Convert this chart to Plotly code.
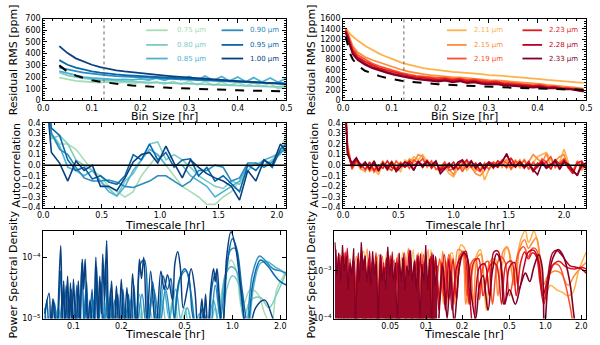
import plotly.graph_objects as go

# ---------------- top row: residual RMS vs bin size ----------------
bin_l = [0.033, 0.050, 0.067, 0.083, 0.100, 0.117, 0.133, 0.150, 0.167, 0.183,
         0.200, 0.217, 0.233, 0.250, 0.267, 0.283, 0.300, 0.317, 0.333, 0.350,
         0.367, 0.383, 0.400, 0.417, 0.433, 0.450, 0.467, 0.483, 0.500]
rms_075 = [195, 180, 168, 162, 160, 152, 158, 148, 156, 146, 154, 143, 158, 140, 162,
           137, 165, 134, 163, 130, 158, 127, 154, 124, 150, 120, 145, 100, 115]
rms_080 = [240, 215, 200, 188, 180, 174, 170, 166, 162, 160, 158, 155, 152, 150, 148,
           146, 143, 140, 138, 135, 133, 130, 128, 125, 123, 120, 118, 116, 125]
rms_085 = [250, 232, 215, 200, 192, 186, 182, 178, 180, 176, 185, 175, 190, 172, 200,
           178, 205, 172, 208, 170, 205, 165, 200, 160, 195, 158, 192, 155, 190]
rms_090 = [280, 262, 250, 238, 228, 220, 214, 208, 203, 200, 196, 193, 190, 187, 184,
           182, 178, 176, 172, 170, 166, 163, 160, 156, 154, 150, 148, 152, 145]
rms_095 = [345, 305, 280, 262, 248, 237, 228, 222, 217, 212, 208, 204, 200, 196, 192,
           188, 184, 180, 176, 172, 168, 164, 160, 157, 154, 151, 148, 145, 142]
rms_100 = [465, 405, 360, 330, 305, 285, 270, 258, 248, 240, 232, 225, 218, 212, 206,
           200, 195, 190, 185, 180, 175, 170, 165, 160, 156, 152, 148, 144, 140]
white_l = [300, 245, 212, 190, 173, 160, 150, 141, 134, 128, 122, 117, 113, 110, 106,
           103, 100, 97, 95, 93, 90, 88, 87, 85, 83, 82, 80, 79, 77]

bin_r = [0.005, 0.010, 0.015, 0.020, 0.030, 0.045, 0.060, 0.075, 0.090, 0.105,
         0.120, 0.135, 0.150, 0.165, 0.180, 0.195, 0.210, 0.225, 0.240, 0.255,
         0.270, 0.285, 0.300, 0.315, 0.330, 0.345, 0.360, 0.375, 0.390, 0.405,
         0.420, 0.435, 0.450, 0.465, 0.480, 0.495]
rms_211 = [1420, 1350, 1290, 1250, 1170, 1070, 990, 910, 850, 790, 740, 700, 660, 630,
           610, 590, 575, 560, 550, 540, 525, 515, 495, 490, 480, 465, 455, 440, 430,
           415, 400, 390, 380, 370, 360, 345]
rms_215 = [1400, 1310, 1180, 1060, 940, 850, 790, 740, 690, 650, 600, 565, 535, 515,
           495, 480, 475, 455, 450, 435, 425, 418, 398, 392, 382, 368, 352, 342, 332,
           322, 302, 292, 282, 262, 250, 228]
rms_219 = [1390, 1290, 1140, 1010, 890, 800, 720, 665, 620, 580, 540, 510, 480, 470,
           450, 440, 445, 420, 430, 400, 410, 385, 370, 375, 350, 345, 330, 325, 300,
           310, 280, 275, 250, 240, 230, 205]
rms_223 = [1370, 1260, 1100, 970, 850, 760, 690, 630, 590, 550, 510, 480, 460, 440,
           430, 410, 425, 395, 415, 380, 390, 360, 350, 355, 330, 325, 310, 300, 285,
           290, 260, 270, 240, 225, 220, 190]
rms_228 = [1350, 1230, 1060, 930, 820, 720, 650, 600, 560, 520, 485, 455, 430, 415,
           400, 385, 400, 370, 390, 355, 370, 340, 330, 335, 310, 305, 290, 280, 265,
           275, 245, 250, 225, 230, 200, 180]
rms_233 = [1330, 1200, 1030, 900, 790, 700, 630, 580, 540, 500, 465, 440, 415, 400,
           385, 370, 385, 355, 375, 340, 355, 325, 315, 320, 295, 290, 275, 265, 250,
           260, 235, 240, 215, 220, 195, 170]
white_r = [1250, 1050, 900, 800, 680, 580, 520, 475, 440, 410, 385, 365, 350, 338,
           327, 317, 308, 300, 292, 285, 278, 272, 266, 260, 255, 250, 245, 240, 236,
           232, 228, 224, 220, 216, 212, 208]

# ---------------- middle row: autocorrelation ----------------
lag_l = [0.00, 0.07, 0.14, 0.21, 0.28, 0.35, 0.42, 0.49, 0.56, 0.63, 0.70, 0.77, 0.84,
         0.91, 0.98, 1.05, 1.12, 1.19, 1.26, 1.33, 1.40, 1.47, 1.54, 1.61, 1.68, 1.75,
         1.82, 1.89, 1.96, 2.03, 2.10]
ac_075 = [1.0, .3, .2, .2, .15, .05, -.05, -.1, -.2, -.25, -.3, -.25, -.1, .0, .1, .0,
          -.1, -.2, -.25, -.3, -.37, -.37, -.3, -.25, -.15, -.05, .02, .0, .05, .15, .35]
ac_080 = [1.0, .25, .28, .2, .05, .0, -.05, -.15, -.22, -.29, -.15, -.08, .05, .2, .22,
          .05, .1, .05, -.02, -.1, -.15, -.2, -.22, -.15, -.18, -.05, .02, .0, .05, .1, .3]
ac_085 = [1.0, .3, .18, -.02, -.05, -.1, -.05, -.15, -.25, -.29, -.2, -.05, .05, .15, .1,
          .0, .0, .0, -.1, -.15, -.2, -.3, -.25, -.2, -.15, .0, .0, .05, .08, .12, .15]
ac_090 = [1.0, .3, .15, .1, -.02, -.12, -.15, -.15, -.14, -.16, -.2, -.21, -.18, -.15,
          -.1, -.1, -.15, -.2, -.15, -.05, -.05, .0, -.02, -.15, -.12, .02, .02, -.02,
          .03, .12, .18]
ac_095 = [1.0, .35, .28, .05, -.05, -.02, -.13, -.1, -.16, -.18, -.1, .1, .05, .2, .05,
          .12, -.02, .05, .06, -.1, -.02, -.15, -.1, -.18, -.25, .0, -.05, .05, -.02,
          .15, .22]
ac_100 = [1.0, .12, .02, -.15, .04, -.05, .0, -.2, -.2, -.24, -.12, .03, .1, .12, .02,
          .18, .02, -.12, .05, -.02, -.08, -.12, -.15, -.2, -.33, -.05, -.15, .05, .0,
          .2, .1]

lag_r = [0.00, 0.04, 0.08, 0.12, 0.16, 0.20, 0.24, 0.28, 0.32, 0.36, 0.40, 0.44, 0.48,
         0.52, 0.56, 0.60, 0.64, 0.68, 0.72, 0.76, 0.80, 0.84, 0.88, 0.92, 0.96, 1.00,
         1.04, 1.08, 1.12, 1.16, 1.20, 1.24, 1.28, 1.32, 1.36, 1.40, 1.44, 1.48, 1.52,
         1.56, 1.60, 1.64, 1.68, 1.72, 1.76, 1.80, 1.84, 1.88, 1.92, 1.96, 2.00, 2.04,
         2.08, 2.12, 2.16, 2.20]
ac_211 = [1.0, .18, -.03, .02, -.04, .03, -.06, -.03, -.09, .02, -.04, .04, -.02, -.06,
          .05, .02, .08, .05, .1, .03, -.02, .04, -.05, -.02, -.08, -.11, -.03, .02,
          -.05, .0, -.06, .02, -.14, -.04, .03, -.02, .04, -.03, .02, .05, -.03, .06,
          -.04, .02, .08, .1, .12, .05, -.02, .03, .15, .02, -.06, .03, -.05, .02]
ac_215 = [1.0, .2, -.02, .03, -.03, -.06, .02, -.07, -.02, .04, -.05, .01, -.03, .03,
          -.01, .06, .03, .1, .08, -.02, .02, -.03, -.06, .01, -.04, -.09, .02, -.03,
          .04, -.02, -.08, -.1, -.05, .03, -.01, .04, -.02, .06, -.04, .01, .05, -.02,
          .03, .1, .06, .02, .11, -.01, .04, .08, .1, -.03, -.05, .02, -.04, .01]
ac_219 = [1.0, .16, -.04, .04, -.02, .02, -.05, .01, -.06, .03, -.02, -.05, .04, -.01,
          .03, -.03, .05, .02, .06, -.01, .04, -.04, -.02, .03, -.05, -.03, .02, -.06,
          .01, .04, -.03, -.06, .02, -.04, .03, .0, .05, .02, -.03, .04, -.01, .05,
          -.04, .03, -.02, .06, .03, .08, -.02, .02, .06, .0, -.07, .04, -.02, .03]
ac_223 = [1.0, .14, -.02, .05, .01, -.04, .03, -.05, .0, -.03, .04, -.02, -.04, .02,
          -.01, .04, .0, .03, -.02, .05, -.03, .02, -.04, .01, -.02, .03, -.04, .01,
          .05, -.02, .02, -.05, .0, .03, -.03, .04, .01, -.02, .07, -.01, .02, -.03,
          .04, -.05, .02, .0, .03, -.04, .05, .01, .03, -.02, -.08, .02, .04, -.03]
ac_228 = [1.0, .12, .0, .06, -.02, .02, -.04, .03, -.05, .01, -.02, .03, -.05, .01,
          -.02, .02, -.04, .03, .0, .04, -.01, .03, -.05, -.02, .02, -.04, .01, .04,
          -.02, .03, -.01, .02, -.04, .03, .01, -.02, .04, .1, .02, -.02, .03, -.01,
          .02, -.06, -.01, .04, -.02, .01, .03, -.03, .05, -.02, -.06, -.09, .02, -.02]
ac_233 = [1.0, .1, .02, .07, -.01, .03, -.03, .04, -.05, .02, -.04, .03, -.06, -.02,
          .03, .01, -.05, .04, -.02, .03, .0, .04, -.08, -.03, .01, -.03, .03, .05,
          -.02, .04, -.03, .02, -.03, .02, -.02, .01, .03, .11, .01, -.01, .03, -.02,
          .01, -.04, -.09, .02, -.03, .0, .05, -.04, .03, .01, -.05, -.1, .0, -.03]

# ---------------- bottom row: power spectral density vs timescale ----------------
per_075 = [0.200, 0.230, 0.250, 0.280, 0.310, 0.340, 0.380, 0.420, 0.460, 0.520,
           0.580, 0.660, 0.740, 0.820, 0.900, 0.980, 1.060, 1.150, 1.300, 1.450,
           1.600, 1.750, 1.900, 2.050, 2.200]
psd_075 = [4e-6, 1.2e-5, 4e-6, 1.5e-5, 5e-6, 1.2e-5, 5e-6, 2e-5, 6e-6, 1.5e-5,
           5e-6, 8e-6, 5e-6, 1.5e-5, 5e-5, 9e-5, 6e-5, 1.5e-5, 3e-5, 2.5e-5,
           1.2e-5, 8e-6, 3e-5, 4.5e-5, 6e-5]
per_080 = [0.066, 0.075, 0.090, 0.100, 0.120, 0.135, 0.160, 0.180, 0.210, 0.235,
           0.255, 0.275, 0.300, 0.330, 0.360, 0.390, 0.430, 0.460, 0.500, 0.550,
           0.620, 0.700, 0.780, 0.850, 0.920, 1.000, 1.080, 1.180, 1.300, 1.500,
           1.700, 1.900, 2.200]
psd_080 = [8e-6, 4e-6, 1e-5, 4e-6, 1.2e-5, 4e-6, 1.2e-5, 4e-6, 1.3e-5, 4e-6,
           1.8e-5, 5e-6, 1.5e-5, 5e-6, 2e-5, 6e-6, 2.5e-5, 8e-6, 1.5e-5, 5e-6,
           1e-5, 5e-6, 1.5e-5, 5e-6, 3e-5, 5e-5, 4e-5, 1e-5, 2e-5, 2.2e-5,
           1.5e-5, 2.5e-5, 6e-5]
per_085 = [0.066, 0.072, 0.080, 0.088, 0.100, 0.110, 0.130, 0.145, 0.165, 0.185,
           0.200, 0.220, 0.240, 0.260, 0.280, 0.310, 0.340, 0.370, 0.400, 0.440,
           0.480, 0.520, 0.570, 0.620, 0.680, 0.760, 0.820, 0.900, 0.980, 1.060,
           1.150, 1.250, 1.350, 1.500, 1.650, 1.850, 2.050, 2.200]
psd_085 = [1e-5, 4e-6, 1.5e-5, 4e-6, 1.2e-5, 4e-6, 1.5e-5, 4e-6, 1.5e-5, 4e-6,
           5e-6, 1.5e-5, 5e-6, 2.5e-5, 5e-6, 2e-5, 6e-6, 3.5e-5, 1e-5, 3e-5,
           8e-6, 1.5e-5, 6e-6, 1.2e-5, 5e-6, 2e-5, 8e-6, 5e-5, 7e-5, 6e-5,
           1.5e-5, 5e-6, 3e-5, 8e-5, 8.5e-5, 7e-5, 6e-5, 5e-5]
per_090 = [0.066, 0.070, 0.075, 0.080, 0.086, 0.090, 0.097, 0.102, 0.108, 0.114,
           0.120, 0.126, 0.133, 0.140, 0.148, 0.155, 0.163, 0.172, 0.182, 0.192,
           0.205, 0.215, 0.230, 0.245, 0.270, 0.290, 0.320, 0.350, 0.380, 0.420,
           0.470, 0.510, 0.550, 0.600, 0.660, 0.720, 0.780, 0.840, 0.900, 0.970,
           1.040, 1.120, 1.220, 1.330, 1.480, 1.600, 1.800, 2.000, 2.200]
psd_090 = [1.5e-5, 5e-6, 2e-5, 5e-6, 2.5e-5, 5e-6, 2e-5, 5e-6, 2.5e-5, 5e-6,
           3e-5, 5e-6, 2e-5, 5e-6, 3e-5, 5e-6, 2.5e-5, 5e-6, 2e-5, 5e-6,
           1.8e-5, 5e-6, 2e-5, 5e-6, 2.5e-5, 6e-6, 3e-5, 8e-6, 3e-5, 6e-6,
           4.5e-5, 6e-5, 2.5e-5, 6e-6, 1.2e-5, 6e-6, 3.5e-5, 1e-5, 4e-5, 1.3e-4,
           1.4e-4, 4e-5, 6e-6, 5e-5, 1.05e-4, 9e-5, 6.5e-5, 6e-5, 5.5e-5]
per_095 = [0.066, 0.068, 0.071, 0.076, 0.079, 0.083, 0.086, 0.090, 0.093, 0.097,
           0.101, 0.105, 0.109, 0.113, 0.117, 0.121, 0.125, 0.131, 0.135, 0.140,
           0.144, 0.149, 0.154, 0.159, 0.165, 0.171, 0.178, 0.190, 0.197, 0.205,
           0.213, 0.222, 0.231, 0.240, 0.250, 0.265, 0.280, 0.295, 0.315, 0.340,
           0.365, 0.390, 0.410, 0.430, 0.460, 0.500, 0.530, 0.560, 0.600, 0.650,
           0.700, 0.740, 0.780, 0.820, 0.860, 0.930, 1.000, 1.070, 1.150, 1.250,
           1.350, 1.500, 1.650, 1.850, 2.000, 2.200]
psd_095 = [8e-6, 2e-5, 5e-6, 1.8e-5, 5e-6, 6e-5, 5e-6, 3.5e-5, 5e-6, 3e-5,
           5e-6, 3.5e-5, 5e-6, 8e-5, 6e-6, 4e-5, 5e-6, 3e-5, 5e-6, 7e-5,
           6e-6, 4e-5, 6e-6, 9e-5, 5e-6, 3e-5, 5e-6, 2.5e-5, 5e-6, 3e-5,
           5e-6, 2.5e-5, 5e-6, 3.5e-5, 6e-6, 8e-5, 9e-5, 6e-6, 4e-5, 6e-6,
           5e-5, 3e-5, 4.5e-5, 1e-5, 4e-5, 6.5e-5, 5e-5, 1.2e-5, 6e-6, 1.5e-5,
           6e-6, 3e-5, 5.5e-5, 2e-5, 6e-6, 8e-5, 2e-4, 1.3e-4, 3e-5, 8e-6,
           4e-5, 9e-5, 7.5e-5, 5e-5, 4e-5, 3.5e-5]
per_100 = [0.066, 0.0703, 0.072, 0.0743, 0.078, 0.0832, 0.085, 0.0868, 0.089, 0.0919,
           0.094, 0.0958, 0.098, 0.100, 0.104, 0.1073, 0.110, 0.1136, 0.116, 0.1185,
           0.123, 0.1272, 0.133, 0.1384, 0.142, 0.1465, 0.150, 0.1529, 0.157, 0.1618,
           0.167, 0.1737, 0.180, 0.1864, 0.193, 0.200, 0.208, 0.217, 0.226, 0.2356,
           0.248, 0.260, 0.268, 0.277, 0.290, 0.306, 0.330, 0.355, 0.372, 0.391,
           0.420, 0.435, 0.453, 0.470, 0.490, 0.520, 0.550, 0.580, 0.610, 0.643,
           0.660, 0.678, 0.700, 0.730, 0.761, 0.780, 0.800, 0.830, 0.870, 0.920,
           0.980, 1.050, 1.130, 1.250, 1.400, 1.600, 1.800, 2.000, 2.200]
psd_100 = [1.2e-5, 2.6e-5, 6e-6, 2.1e-5, 5e-6, 1.55e-4, 8e-6, 4.1e-5, 7e-6, 4.9e-5,
           8e-6, 3.8e-5, 6e-6, 4.4e-5, 6e-6, 4.1e-5, 8e-6, 9.3e-5, 3e-5, 9.3e-5,
           6e-6, 2.0e-5, 5e-6, 1.0e-4, 8e-6, 4.9e-5, 1.2e-5, 1.12e-4, 2e-5, 1.86e-4,
           6e-6, 4.1e-5, 5e-6, 3.4e-5, 6e-6, 4.4e-5, 5e-6, 3.2e-5, 5e-6, 5.4e-5,
           6e-6, 9.3e-5, 4.5e-5, 1.0e-4, 8e-6, 5.9e-5, 6e-6, 5.9e-5, 3e-5, 5.2e-5,
           2e-5, 8e-5, 1.23e-4, 7e-5, 1.5e-5, 3e-5, 6.5e-5, 3e-5, 5e-6, 2.1e-5,
           8e-6, 2.5e-5, 6e-6, 3e-5, 6.5e-5, 4e-5, 6.5e-5, 2e-5, 6e-6, 1e-4,
           2.6e-4, 1.4e-4, 3e-5, 5e-6, 1.5e-5, 2e-5, 1e-5, 6e-6, 5e-6]

per_211 = [0.022, 0.0228, 0.030, 0.031, 0.040, 0.0415, 0.051, 0.053, 0.064, 0.0665,
           0.078, 0.081, 0.092, 0.096, 0.110, 0.114,
           0.12, 0.13, 0.14, 0.15, 0.165, 0.18, 0.195, 0.21, 0.225, 0.245, 0.27, 0.285,
           0.3, 0.32, 0.35, 0.38, 0.41, 0.44, 0.47, 0.5, 0.54, 0.58, 0.63, 0.68, 0.72,
           0.76, 0.8, 0.86, 0.93, 1.0, 1.1, 1.25, 1.4, 1.55, 1.7, 1.9, 2.2]
psd_211 = [2.2e-3, 6e-5, 2.6e-3, 6e-5, 2.2e-3, 6e-5, 2e-3, 6e-5, 2.5e-3, 6e-5,
           2.8e-3, 6e-5, 2.5e-3, 6e-5, 2.8e-3, 6e-5,
           3e-4, 1.5e-3, 2e-4, 1.5e-3, 2.4e-3, 3e-4, 3.5e-3, 3e-3, 2e-4, 1e-3, 2.4e-3,
           2.8e-3, 1e-3, 1.5e-4, 1.2e-3, 1.8e-3, 8e-4, 1.5e-3, 3e-3, 2.5e-3, 5e-4, 2e-3,
           5e-3, 7e-3, 4e-3, 5e-3, 7e-3, 4e-3, 8e-4, 3e-4, 5e-4, 4e-4, 3.5e-4, 3e-4,
           3.5e-4, 1e-3, 2.5e-3]
per_215 = [0.0205, 0.0212, 0.026, 0.027, 0.032, 0.0332, 0.039, 0.0405, 0.047, 0.049,
           0.058, 0.0605, 0.071, 0.074, 0.086, 0.0895, 0.104, 0.108,
           0.12, 0.128, 0.138, 0.148, 0.16, 0.172, 0.185, 0.2, 0.215, 0.235, 0.25, 0.27,
           0.29, 0.31, 0.34, 0.37, 0.4, 0.44, 0.48, 0.52, 0.56, 0.61, 0.67, 0.72, 0.78,
           0.84, 0.9, 0.96, 1.05, 1.2, 1.35, 1.55, 1.75, 2.0, 2.2]
psd_215 = [2.4e-3, 6e-5, 2e-3, 6e-5, 2.9e-3, 6e-5, 1.9e-3, 6e-5, 2.6e-3, 6e-5,
           2.2e-3, 6e-5, 3e-3, 6e-5, 2.4e-3, 6e-5, 2.8e-3, 6e-5,
           2e-3, 2e-4, 2.6e-3, 2e-4, 2.2e-3, 2e-4, 2.8e-3, 2.5e-3, 2e-4, 1.4e-3, 2e-4,
           2e-3, 2.2e-3, 4e-4, 1.5e-3, 1.8e-3, 3e-4, 2.5e-3, 3.2e-3, 1e-3, 5e-4, 3e-3,
           4.5e-3, 3e-3, 4e-3, 5e-3, 2e-3, 5e-4, 8e-4, 1e-3, 9e-4, 5e-4, 8e-4, 1.2e-3,
           1.5e-3]
per_219 = [0.019, 0.0198, 0.023, 0.024, 0.029, 0.0302, 0.035, 0.0365, 0.043, 0.0448,
           0.054, 0.0562, 0.066, 0.0688, 0.080, 0.0834, 0.095, 0.099, 0.108, 0.113,
           0.12, 0.13, 0.14, 0.155, 0.17, 0.19, 0.205, 0.22, 0.24, 0.26, 0.28, 0.3,
           0.33, 0.36, 0.39, 0.42, 0.46, 0.5, 0.55, 0.6, 0.66, 0.72, 0.78, 0.84, 0.9,
           0.97, 1.05, 1.18, 1.3, 1.45, 1.6, 1.75]
psd_219 = [2.2e-3, 6e-5, 1.8e-3, 6e-5, 2.6e-3, 6e-5, 1.5e-3, 6e-5, 2e-3, 6e-5,
           1.7e-3, 6e-5, 2.4e-3, 6e-5, 1.6e-3, 6e-5, 2.2e-3, 6e-5, 1.8e-3, 6e-5,
           2.5e-4, 1.8e-3, 3e-4, 2.2e-3, 3e-4, 2e-3, 2.6e-3, 3e-4, 1.5e-3, 1.8e-3,
           2.5e-4, 1.2e-3, 1.6e-3, 2e-4, 1.2e-3, 2e-3, 1.5e-3, 3e-4, 1e-3, 2.5e-3,
           3.2e-3, 2e-3, 3e-3, 2.8e-3, 9e-4, 2.5e-4, 6e-4, 1.4e-3, 1.3e-3, 6e-4, 2e-4,
           5e-5]
per_223 = [0.0178, 0.0188, 0.021, 0.022, 0.025, 0.026, 0.0285, 0.0295, 0.033, 0.0342,
           0.038, 0.0395, 0.044, 0.0457, 0.050, 0.052, 0.057, 0.059, 0.065, 0.0675,
           0.074, 0.077, 0.084, 0.087, 0.096, 0.100, 0.109, 0.113,
           0.12, 0.13, 0.142, 0.155, 0.168, 0.18, 0.195, 0.21, 0.23, 0.25, 0.275, 0.3,
           0.33, 0.36, 0.39, 0.43, 0.47, 0.52, 0.57, 0.62, 0.67, 0.72, 0.78, 0.84, 0.9,
           0.97, 1.05, 1.15, 1.3, 1.5, 1.75, 2.0, 2.2]
psd_223 = [2e-3, 6e-5, 2.5e-3, 6e-5, 1.6e-3, 6e-5, 2.2e-3, 6e-5, 1.8e-3, 6e-5,
           2.4e-3, 6e-5, 1.5e-3, 6e-5, 2.1e-3, 6e-5, 1.9e-3, 6e-5, 2.3e-3, 6e-5,
           1.7e-3, 6e-5, 2.2e-3, 6e-5, 1.6e-3, 6e-5, 2e-3, 6e-5,
           1.8e-3, 2.5e-4, 2.2e-3, 2.5e-4, 1.8e-3, 2.5e-4, 1.8e-3, 2.2e-3, 2e-4, 1.5e-3,
           1.8e-3, 3e-4, 1e-3, 1.5e-3, 1.3e-3, 2e-4, 1.4e-3, 1.6e-3, 3e-4, 1.5e-3,
           2.5e-3, 1.8e-3, 2.4e-3, 2e-3, 6e-4, 2e-4, 6e-4, 1.3e-3, 1.6e-3, 1.2e-3,
           1.1e-3, 1.2e-3, 1.1e-3]
per_228 = [0.0175, 0.0183, 0.0195, 0.0204, 0.0218, 0.0228, 0.0243, 0.0252, 0.0270, 0.0280,
           0.0301, 0.0312, 0.0336, 0.0348, 0.0375, 0.0388, 0.0418, 0.0432, 0.0466, 0.0482,
           0.0520, 0.0538, 0.0580, 0.0600, 0.0647, 0.0670, 0.0722, 0.0748, 0.0805, 0.0834,
           0.0898, 0.0930, 0.1000, 0.1040, 0.1120, 0.1160,
           0.12, 0.128, 0.136, 0.145, 0.155, 0.165, 0.18, 0.2, 0.215, 0.23, 0.25, 0.28,
           0.31, 0.34, 0.37, 0.4, 0.43, 0.46, 0.5, 0.55, 0.6, 0.66, 0.72, 0.8, 0.88,
           0.95, 1.03, 1.15, 1.25, 1.4, 1.6, 1.8, 2.0, 2.2]
psd_228 = [2.8e-3, 1.5e-4, 2e-3, 8e-5, 3e-3, 2e-4, 1.6e-3, 9e-5, 2.4e-3, 1.5e-4,
           1.8e-3, 7e-5, 2.6e-3, 2e-4, 1.4e-3, 8e-5, 2.2e-3, 1.5e-4, 1.9e-3, 6e-5,
           2.5e-3, 2e-4, 1.5e-3, 9e-5, 2e-3, 1.5e-4, 2.8e-3, 8e-5, 1.7e-3, 1.5e-4,
           2.3e-3, 7e-5, 2e-3, 1.2e-4, 2.4e-3, 1e-4,
           2e-3, 1.5e-4, 1.5e-3, 1.5e-4, 1.8e-3, 1.5e-4, 1.2e-3, 2.2e-3, 2.6e-3, 4e-4,
           5e-5, 1.2e-3, 1.4e-3, 3e-4, 2.5e-3, 2.6e-3, 1e-3, 2e-4, 1.2e-3, 1.5e-3, 4e-4,
           1.2e-3, 2.5e-3, 2.7e-3, 1.5e-3, 3e-4, 6e-4, 2.4e-3, 2.7e-3, 2e-3, 1.3e-3,
           1.2e-3, 1.1e-3, 9e-4]
# 2.33 um: dense short-timescale forest, then the long-timescale arches
dense_233_per = [0.0172, 0.0178, 0.0185, 0.0192, 0.0199, 0.0206, 0.0214, 0.0222, 0.0230,
                 0.0238, 0.0247, 0.0256, 0.0266, 0.0276, 0.0286, 0.0297, 0.0308, 0.0319,
                 0.0331, 0.0343, 0.0356, 0.0369, 0.0383, 0.0397, 0.0412, 0.0427, 0.0443,
                 0.0460, 0.0477, 0.0495, 0.0513, 0.0532, 0.0552, 0.0573, 0.0594, 0.0616,
                 0.0639, 0.0663, 0.0688, 0.0714, 0.0740, 0.0768, 0.0797, 0.0826, 0.0857,
                 0.0889, 0.0922, 0.0957, 0.0993, 0.1030, 0.1068, 0.1108, 0.1149, 0.1192,
                 0.1237]
dense_233_psd = [4e-3, 8e-4, 2.4e-3, 6e-4, 3.5e-3, 1e-3, 2e-3, 4e-4, 1.5e-3, 8e-4,
                 3e-3, 6e-5, 1.8e-3, 6e-4, 4e-3, 1e-3, 2.1e-3, 6e-4, 1.3e-3, 5e-4,
                 2.6e-3, 8e-4, 1.6e-3, 7e-5, 2.2e-3, 6e-4, 1.2e-3, 4e-4, 3.2e-3, 8e-4,
                 1.8e-3, 6e-4, 1.5e-3, 6e-5, 2.4e-3, 6e-4, 1.9e-3, 4e-4, 1.3e-3, 8e-4,
                 2.7e-3, 6e-4, 1.6e-3, 4e-4, 2.1e-3, 8e-5, 1.4e-3, 6e-4, 3.5e-3, 4e-4,
                 1.8e-3, 5e-5, 2.2e-3, 5e-4, 1.3e-3]
per_233 = [0.128, 0.138, 0.15, 0.16, 0.172, 0.19, 0.205, 0.22, 0.24, 0.26, 0.28, 0.3,
           0.33, 0.36, 0.39, 0.42, 0.45, 0.5, 0.56, 0.62, 0.68, 0.74, 0.8, 0.88, 0.94,
           0.98, 1.05, 1.15, 1.28, 1.42, 1.6, 1.75, 1.85]
psd_233 = [1e-4, 1.3e-3, 1e-4, 1e-3, 8e-5, 1.2e-3, 2.4e-3, 2e-3, 3e-4, 1e-4, 5e-4,
           8e-4, 1.5e-4, 1e-3, 2.3e-3, 1.6e-3, 2e-4, 4e-4, 2e-4, 5e-4, 9e-4, 6e-4,
           1.2e-3, 2.2e-3, 1.2e-3, 5e-5, 5e-4, 1.8e-3, 2.8e-3, 2e-3, 6e-4, 1e-4, 5e-5]

blue_names = ["0.75", "0.80", "0.85", "0.90", "0.95", "1.00"]
blue_cols = ["#a8ddb5", "#7bccc4", "#4eb3d3", "#2b8cbe", "#0868ac", "#084081"]
red_names = ["2.11", "2.15", "2.19", "2.23", "2.28", "2.33"]
red_cols = ["#feb24c", "#fd8d3c", "#fc4e2a", "#e31a1c", "#bd0026", "#800026"]

FONT = "DejaVu Sans"
W, H = 600, 345
fig = go.Figure()


def line(x, y, color, ax, width=1.6, dash=None, shape="linear"):
    fig.add_trace(go.Scatter(
        x=x, y=y, mode="lines", xaxis="x" + ax, yaxis="y" + ax,
        line=dict(color=color, width=width, dash=dash, shape=shape),
        showlegend=False, hoverinfo="skip",
    ))


# top row
for i, ys in enumerate([rms_075, rms_080, rms_085, rms_090, rms_095, rms_100]):
    line(bin_l, ys, blue_cols[i], "", 1.8)
line(bin_l, white_l, "black", "", 2, dash="dash")
for i, ys in enumerate([rms_211, rms_215, rms_219, rms_223, rms_228, rms_233]):
    line(bin_r, ys, red_cols[i], "2", 1.8)
line(bin_r, white_r, "black", "2", 2, dash="dash")

# middle row
for i, ys in enumerate([ac_075, ac_080, ac_085, ac_090, ac_095, ac_100]):
    line(lag_l, ys, blue_cols[i], "3", 1.6)
for i, ys in enumerate([ac_211, ac_215, ac_219, ac_223, ac_228, ac_233]):
    line(lag_r, ys, red_cols[i], "4", 1.6)

# bottom row
for i, (xs, ys) in enumerate([(per_075, psd_075), (per_080, psd_080), (per_085, psd_085),
                              (per_090, psd_090), (per_095, psd_095), (per_100, psd_100)]):
    line(xs, ys, blue_cols[i], "5", 1.5, shape="spline")
for i, (xs, ys) in enumerate([(per_211, psd_211), (per_215, psd_215), (per_219, psd_219),
                              (per_223, psd_223), (per_228, psd_228)]):
    line(xs, ys, red_cols[i], "6", 1.5, shape="spline")
fig.add_trace(go.Scatter(
    x=dense_233_per, y=dense_233_psd, mode="lines", xaxis="x6", yaxis="y6",
    line=dict(color=red_cols[5], width=1.2), fill="tozeroy", fillcolor="#9a0a28",
    showlegend=False, hoverinfo="skip",
))
line(per_233, psd_233, red_cols[5], "6", 1.6, shape="spline")

# reference lines
for a in ["", "2"]:
    fig.add_shape(type="line", x0=0.125, x1=0.125, y0=0, y1=1, xref="x" + a,
                  yref="y" + a + " domain", line=dict(color="#666", width=1, dash="dot"))
for a in ["3", "4"]:
    fig.add_shape(type="line", x0=0, x1=1, y0=0, y1=0, xref="x" + a + " domain",
                  yref="y" + a, line=dict(color="black", width=1.6))

# legends (two columns of three, text tinted like the line)
leg_rows = [27, 42, 56]
for names, cols, x_line, x_text in [(blue_names, blue_cols, [(143, 165), (220, 242)], [172, 247]),
                                    (red_names, red_cols, [(450, 470), (527, 547)], [475, 552])]:
    for i, (n, c) in enumerate(zip(names, cols)):
        col, row = divmod(i, 3)
        yy = 1 - leg_rows[row] / H
        fig.add_shape(type="line", xref="paper", yref="paper",
                      x0=x_line[col][0] / W, x1=x_line[col][1] / W, y0=yy, y1=yy,
                      line=dict(color=c, width=1.8))
        fig.add_annotation(text=f"{n} μm", x=x_text[col] / W, y=yy, xref="paper", yref="paper",
                           showarrow=False, xanchor="left", yanchor="middle",
                           font=dict(family=FONT, size=7, color=c))

# axes
L = [38 / W, 286 / W]
R = [344 / W, 592 / W]
RB = [335 / W, 592 / W]
TOP = [1 - 99 / H, 1 - 15 / H]
MID = [1 - 209 / H, 1 - 122 / H]
BOT = [1 - 323 / H, 1 - 233 / H]


def ax(minor_dtick=None, **kw):
    d = dict(showline=True, linecolor="black", linewidth=1, mirror="ticks",
             ticks="inside", ticklen=4, tickcolor="black", showgrid=False,
             zeroline=False, tickfont=dict(size=8, family=FONT, color="black"))
    if minor_dtick is not None:
        d["minor"] = dict(ticks="inside", ticklen=2, dtick=minor_dtick, tickcolor="black")
    d.update(kw)
    return d


def sup(e):
    return f"10<sup>−{e}</sup>"


fig.update_layout(
    xaxis=ax(0.02, domain=L, anchor="y", range=[0, 0.5], dtick=0.1, tickformat=".1f"),
    yaxis=ax(20, domain=TOP, anchor="x", range=[0, 700], dtick=100),
    xaxis2=ax(0.02, domain=R, anchor="y2", range=[0, 0.5], dtick=0.1, tickformat=".1f"),
    yaxis2=ax(50, domain=TOP, anchor="x2", range=[0, 1600], dtick=200),
    xaxis3=ax(0.1, domain=L, anchor="y3", range=[0, 2.08], dtick=0.5, tickformat=".1f"),
    yaxis3=ax(0.02, domain=MID, anchor="x3", range=[-0.4, 0.4], dtick=0.1, tickformat=".1f"),
    xaxis4=ax(0.1, domain=R, anchor="y4", range=[0, 2.2], dtick=0.5, tickformat=".1f"),
    yaxis4=ax(0.02, domain=MID, anchor="x4", range=[-0.4, 0.4], dtick=0.1, tickformat=".1f"),
    xaxis5=ax(domain=L, anchor="y5", type="log", range=[-1.19, 0.339],
              tickvals=[0.1, 0.2, 0.5, 1.0, 2.0], ticktext=["0.1", "0.2", "0.5", "1.0", "2.0"]),
    yaxis5=ax(domain=BOT, anchor="x5", type="log", range=[-5, -3.57],
              tickvals=[1e-5, 1e-4], ticktext=[sup(5), sup(4)]),
    xaxis6=ax(domain=RB, anchor="y6", type="log", range=[-1.77, 0.342],
              tickvals=[0.05, 0.1, 0.2, 0.5, 1.0, 2.0],
              ticktext=["0.05", "0.1", "0.2", "0.5", "1.0", "2.0"]),
    yaxis6=ax(domain=BOT, anchor="x6", type="log", range=[-4, -2.16],
              tickvals=[1e-4, 1e-3], ticktext=[sup(4), sup(3)]),
)

# axis titles
tf = dict(family=FONT, size=11, color="black")
titles = [
    ("Bin Size [hr]", 162, 116, 0), ("Bin Size [hr]", 468, 116, 0),
    ("Timescale [hr]", 162, 227, 0), ("Timescale [hr]", 468, 227, 0),
    ("Timescale [hr]", 162, 339, 0), ("Timescale [hr]", 467, 339, 0),
    ("Residual RMS [ppm]", 8, 57, -90), ("Residual RMS [ppm]", 312, 57, -90),
    ("Autocorrelation", 11, 165, -90), ("Autocorrelation", 315, 165, -90),
    ("Power Spectral Density", 8, 278, -90), ("Power Spectral Density", 312, 278, -90),
]
for txt, px, py, ang in titles:
    fig.add_annotation(text=txt, x=px / W, y=1 - py / H, xref="paper", yref="paper",
                       showarrow=False, textangle=ang, font=tf,
                       xanchor="center", yanchor="middle")

fig.update_layout(
    width=W, height=H, margin=dict(l=0, r=0, t=0, b=0), showlegend=False,
    paper_bgcolor="white", plot_bgcolor="white", font=dict(family=FONT),
)
fig.write_html("out.html", config={"displayModeBar": False},
               post_script="document.body.style.margin='0px';")
